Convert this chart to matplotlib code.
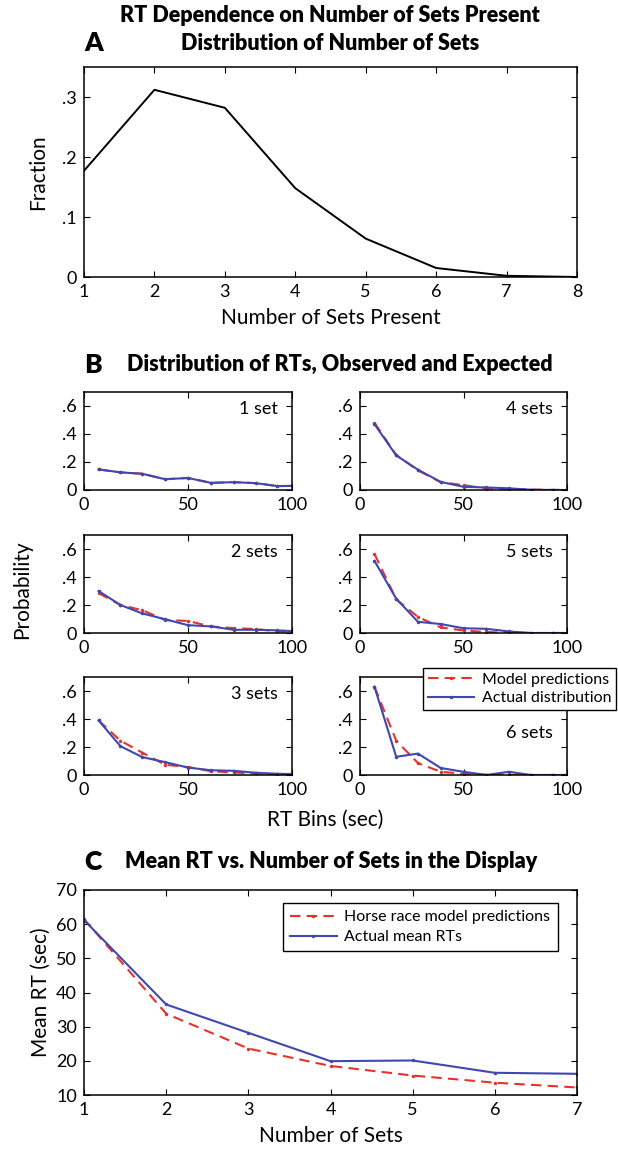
import matplotlib
matplotlib.use("Agg")
import matplotlib.pyplot as plt
from matplotlib.ticker import FuncFormatter
from matplotlib.lines import Line2D

plt.rcParams['font.family'] = ['Lato', 'DejaVu Sans']

# Panel A: distribution of number of sets
n_sets_present = [1, 2, 3, 4, 5, 6, 7, 8]
fraction = [0.177, 0.312, 0.282, 0.148, 0.064, 0.015, 0.002, 0.0]

# Panel B: RT bins and distributions (model vs actual)
rt_bins = [7, 17.5, 28, 39, 50, 61, 72, 82.5, 93, 104]
set_labels = ["1 set", "2 sets", "3 sets", "4 sets", "5 sets", "6 sets"]
actual_dist = [
    [0.147, 0.126, 0.116, 0.077, 0.086, 0.051, 0.056, 0.049, 0.028, 0.030],
    [0.300, 0.200, 0.140, 0.098, 0.056, 0.047, 0.023, 0.023, 0.019, 0.010],
    [0.390, 0.206, 0.128, 0.092, 0.053, 0.034, 0.030, 0.016, 0.009, 0.005],
    [0.470, 0.247, 0.145, 0.058, 0.023, 0.018, 0.012, 0.002, 0.0, 0.0],
    [0.515, 0.245, 0.080, 0.064, 0.034, 0.030, 0.011, 0.0, 0.0, 0.0],
    [0.630, 0.130, 0.153, 0.050, 0.023, 0.0, 0.023, 0.0, 0.0, 0.0],
]
model_dist = [
    [0.147, 0.126, 0.116, 0.077, 0.086, 0.051, 0.056, 0.049, 0.028, 0.030],
    [0.285, 0.200, 0.163, 0.093, 0.086, 0.047, 0.035, 0.028, 0.012, 0.010],
    [0.390, 0.245, 0.160, 0.073, 0.057, 0.027, 0.018, 0.011, 0.004, 0.002],
    [0.480, 0.250, 0.140, 0.055, 0.035, 0.010, 0.008, 0.003, 0.001, 0.0],
    [0.565, 0.240, 0.115, 0.040, 0.018, 0.007, 0.002, 0.0, 0.0, 0.0],
    [0.630, 0.245, 0.085, 0.023, 0.009, 0.002, 0.0, 0.0, 0.0, 0.0],
]

# Panel C: mean RT
n_sets = [1, 2, 3, 4, 5, 6, 7]
mean_rt_actual = [61.2, 36.5, 28.2, 19.9, 20.1, 16.5, 16.2]
mean_rt_model = [61.5, 33.8, 23.6, 18.5, 15.7, 13.6, 12.2]

RED = '#e5332a'
BLUE = '#4048b0'
W, H = 618, 1150


def frac(v, pos):
    if v == 0:
        return '0'
    return ('%g' % v).replace('0.', '.')


def style(ax):
    ax.tick_params(direction='in', top=True, right=True, length=4,
                   width=0.8, labelsize=13, pad=5)
    for s in ax.spines.values():
        s.set_linewidth(1.1)


def box(l, t, r, b):
    return [l / W, 1 - b / H, (r - l) / W, (b - t) / H]


fig = plt.figure(figsize=(W / 100, H / 100), dpi=100)

# ---- Panel A
ax = fig.add_axes(box(84, 67, 577, 277))
ax.plot(n_sets_present, fraction, color='black', lw=1.4)
ax.set_xlim(1, 8)
ax.set_ylim(0, 0.35)
ax.set_yticks([0, 0.1, 0.2, 0.3])
ax.yaxis.set_major_formatter(FuncFormatter(frac))
ax.set_xlabel('Number of Sets Present', fontsize=15, labelpad=6)
ax.set_ylabel('Fraction', fontsize=15, labelpad=10)
style(ax)

fig.text(330 / W, 1 - 16 / H, 'RT Dependence on Number of Sets Present',
         ha='center', va='center', fontsize=15.5, fontweight='heavy')
fig.text(330 / W, 1 - 43 / H, 'Distribution of Number of Sets',
         ha='center', va='center', fontsize=15.5, fontweight='heavy')
fig.text(84 / W, 1 - 43 / H, 'A', ha='left', va='center', fontsize=19,
         fontweight='heavy')

# ---- Panel B
cols = [(84, 292), (360, 567)]
rows = [(392, 490), (535, 633), (677, 775)]
label_y = [0.83, 0.83, 0.83, 0.83, 0.83, 0.43]
for i in range(6):
    c, r = divmod(i, 3)
    l, rr = cols[c]
    t, b = rows[r]
    ax = fig.add_axes(box(l, t, rr, b))
    ax.plot(rt_bins, model_dist[i], color=RED, lw=1.5, ls=(0, (5, 3)),
            marker='.', ms=3)
    ax.plot(rt_bins, actual_dist[i], color=BLUE, lw=1.5, marker='.', ms=3)
    ax.set_xlim(0, 100)
    ax.set_ylim(0, 0.7)
    ax.set_xticks([0, 50, 100])
    ax.set_yticks([0, 0.2, 0.4, 0.6])
    ax.yaxis.set_major_formatter(FuncFormatter(frac))
    ax.text(0.93, label_y[i], set_labels[i], transform=ax.transAxes,
            ha='right', va='center', fontsize=13)
    style(ax)

fig.text(84 / W, 1 - 365 / H, 'B', ha='left', va='center', fontsize=19,
         fontweight='heavy')
fig.text(340 / W, 1 - 365 / H, 'Distribution of RTs, Observed and Expected',
         ha='center', va='center', fontsize=15.5, fontweight='heavy')
fig.text(22 / W, 1 - 590 / H, 'Probability', rotation=90, ha='center',
         va='center', fontsize=15)
fig.text(325 / W, 1 - 820 / H, 'RT Bins (sec)', ha='center', va='center',
         fontsize=15)

handles = [Line2D([], [], color=RED, lw=1.5, ls=(0, (5, 3)), marker='.', ms=3),
           Line2D([], [], color=BLUE, lw=1.5, marker='.', ms=3)]
leg = fig.legend(handles, ['Model predictions', 'Actual distribution'],
                 loc='upper left', bbox_to_anchor=(423 / W, 1 - 668 / H),
                 fontsize=11.5, frameon=True, fancybox=False, borderpad=0.3,
                 labelspacing=0.25, handlelength=2.9, handletextpad=0.5,
                 borderaxespad=0, framealpha=1)
leg.get_frame().set_edgecolor('black')
leg.get_frame().set_linewidth(1.0)

# ---- Panel C
ax = fig.add_axes(box(84, 890, 577, 1095))
ax.plot(n_sets, mean_rt_model, color=RED, lw=1.5, ls=(0, (5, 3)),
        marker='.', ms=3, label='Horse race model predictions')
ax.plot(n_sets, mean_rt_actual, color=BLUE, lw=1.5, marker='.', ms=3,
        label='Actual mean RTs')
ax.set_xlim(1, 7)
ax.set_ylim(10, 70)
ax.set_yticks(range(10, 71, 10))
ax.set_xlabel('Number of Sets', fontsize=15, labelpad=6)
ax.set_ylabel('Mean RT (sec)', fontsize=15, labelpad=4)
style(ax)
leg = ax.legend(loc='upper left', bbox_to_anchor=(283 / W, 1 - 903 / H),
                bbox_transform=fig.transFigure, fontsize=11.5, fancybox=False,
                borderpad=0.45, labelspacing=0.35, handlelength=2.9,
                handletextpad=0.5, borderaxespad=0, framealpha=1)
leg.get_frame().set_edgecolor('black')
leg.get_frame().set_linewidth(1.0)

fig.text(84 / W, 1 - 862 / H, 'C', ha='left', va='center', fontsize=19,
         fontweight='heavy')
fig.text(331 / W, 1 - 862 / H, 'Mean RT vs. Number of Sets in the Display',
         ha='center', va='center', fontsize=15.5, fontweight='heavy')

fig.savefig('out.png', dpi=100)
